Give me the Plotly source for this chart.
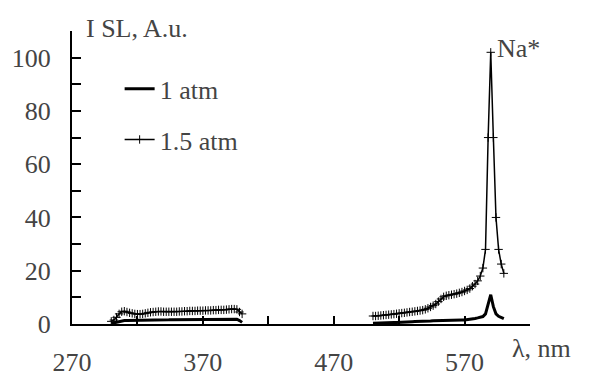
import plotly.graph_objects as go

# wavelength grids (nm)
wl_left = [300, 302, 304, 306, 308, 310, 312, 314, 316, 318, 320, 322, 324, 326, 328, 330,
           332, 334, 336, 338, 340, 342, 344, 346, 348, 350, 352, 354, 356, 358, 360, 362,
           364, 366, 368, 370, 372, 374, 376, 378, 380, 382, 384, 386, 388, 390, 392, 394,
           396, 398, 400]
wl_right = [500, 502, 504, 506, 508, 510, 512, 514, 516, 518, 520, 522, 524, 526, 528, 530,
            532, 534, 536, 538, 540, 542, 544, 546, 548, 550, 552, 554, 556, 558, 560, 562,
            564, 566, 568, 570, 572, 574, 576, 578, 580, 582, 584, 586, 588, 590, 592, 594,
            596, 598, 600]

# 1.5 atm intensity
i15_left = [1.0, 1.5, 2.5, 3.8, 4.6, 4.8, 4.5, 4.2, 4.0, 3.8, 3.7, 3.7, 3.8, 4.0, 4.2, 4.4,
            4.5, 4.6, 4.7, 4.7, 4.6, 4.6, 4.6, 4.6, 4.6, 4.6, 4.7, 4.7, 4.8, 4.8, 4.9, 4.9,
            4.9, 5.0, 5.0, 5.0, 5.1, 5.1, 5.1, 5.2, 5.2, 5.3, 5.3, 5.3, 5.4, 5.5, 5.6, 5.6,
            5.5, 4.5, 3.8]
i15_right = [3.0, 3.0, 3.1, 3.2, 3.3, 3.4, 3.5, 3.6, 3.7, 3.85, 4.0, 4.1, 4.2, 4.35, 4.5, 4.6,
             4.75, 4.9, 5.05, 5.2, 5.5, 5.9, 6.4, 6.9, 7.5, 8.4, 9.4, 10.2, 10.6, 10.8, 11.0, 11.2,
             11.4, 11.7, 12.0, 12.4, 12.8, 13.3, 14.2, 15.0, 16.2, 18.0, 21.0, 28.0, 70.0, 102.0, 70.0, 40.0,
             28.0, 22.5, 19.0]

# 1 atm intensity
i1_left = [0.2, 0.4, 0.7, 1.0, 1.2, 1.3, 1.3, 1.3, 1.3, 1.3, 1.3, 1.35, 1.4, 1.4, 1.4, 1.45,
           1.5, 1.5, 1.5, 1.5, 1.5, 1.55, 1.55, 1.6, 1.6, 1.6, 1.6, 1.65, 1.65, 1.7, 1.7, 1.7,
           1.7, 1.75, 1.75, 1.75, 1.75, 1.8, 1.8, 1.8, 1.8, 1.8, 1.8, 1.8, 1.8, 1.8, 1.8, 1.8,
           1.8, 1.3, 0.6]
i1_right = [0.3, 0.3, 0.35, 0.4, 0.4, 0.45, 0.5, 0.5, 0.55, 0.6, 0.6, 0.65, 0.7, 0.75, 0.8, 0.85,
            0.9, 0.9, 0.95, 1.0, 1.0, 1.05, 1.1, 1.2, 1.25, 1.3, 1.35, 1.4, 1.4, 1.4, 1.4, 1.4,
            1.45, 1.45, 1.5, 1.5, 1.6, 1.8, 2.0, 2.1, 2.3, 2.5, 2.8, 3.8, 7.5, 11.0, 6.5, 3.8,
            2.9, 2.3, 2.0]

x_ticks = [270, 320, 370, 420, 470, 520, 570, 620]
x_ticktext = ["270", "", "370", "", "470", "", "570", ""]
y_ticks = [0, 10, 20, 30, 40, 50, 60, 70, 80, 90, 100, 110]
y_ticktext = ["0", "", "20", "", "40", "", "60", "", "80", "", "100", ""]

FONT = "Times New Roman"
BLACK = "#000000"

x_all = wl_left + [None] + wl_right
fig = go.Figure()
fig.add_trace(go.Scatter(
    x=x_all, y=i1_left + [None] + i1_right, mode="lines", name="1 atm",
    line=dict(color=BLACK, width=3), legendgroup="a"))
fig.add_trace(go.Scatter(
    x=x_all, y=i15_left + [None] + i15_right, mode="lines+markers", name="1.5 atm",
    line=dict(color=BLACK, width=1.5),
    marker=dict(symbol="cross-thin", size=6, line=dict(color=BLACK, width=1)),
    legendgroup="b"))

# page body has an 8px margin: layout shifted by -8 px to compensate
fig.update_layout(
    template="none",
    width=589, height=376,
    margin=dict(l=64, r=67, t=23, b=60, autoexpand=False),
    paper_bgcolor="white", plot_bgcolor="white",
    font=dict(family=FONT, size=26),
    showlegend=True,
    legend=dict(x=0.104, y=0.883, xanchor="left", yanchor="top",
                bgcolor="rgba(0,0,0,0)", traceorder="grouped", tracegroupgap=14,
                font=dict(family=FONT, size=26)),
    xaxis=dict(range=[270, 620], tickmode="array", tickvals=x_ticks, ticktext=x_ticktext,
               ticks="inside", ticklen=8, tickwidth=2, tickcolor=BLACK,
               showline=True, linecolor=BLACK, linewidth=2, automargin=False,
               showgrid=False, zeroline=False, ticklabelstandoff=14,
               tickfont=dict(family=FONT, size=26)),
    yaxis=dict(range=[0, 110], tickmode="array", tickvals=y_ticks, ticktext=y_ticktext,
               ticks="inside", ticklen=9, tickwidth=2, tickcolor=BLACK,
               showline=True, linecolor=BLACK, linewidth=2, automargin=False,
               showgrid=False, zeroline=False, ticklabelstandoff=14,
               tickfont=dict(family=FONT, size=26)),
    annotations=[
        dict(text="I SL, A.u.", xref="paper", yref="paper", x=0.026, y=1.01,
             xanchor="left", yanchor="middle", showarrow=False,
             font=dict(family=FONT, size=26)),
        dict(text="λ, nm", xref="paper", yref="paper", x=0.956, y=-0.082,
             xanchor="left", yanchor="middle", showarrow=False,
             font=dict(family=FONT, size=26)),
        dict(text="Na*", xref="x", yref="y", x=593.5, y=103.5,
             xanchor="left", yanchor="middle", showarrow=False,
             font=dict(family=FONT, size=26)),
    ],
)

fig.write_html("out.html")
